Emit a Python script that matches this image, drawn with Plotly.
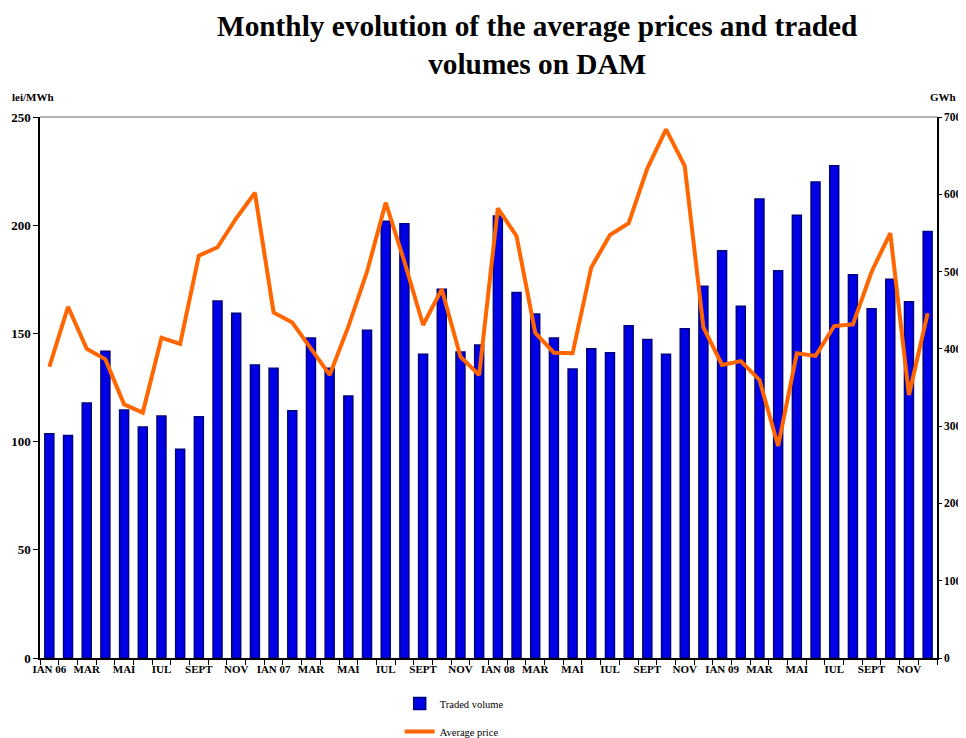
import plotly.graph_objects as go

months = [
    "IAN 06", "FEB 06", "MAR 06", "APR 06", "MAI 06", "IUN 06", "IUL 06", "AUG 06", "SEPT 06", "OCT 06", "NOV 06", "DEC 06",
    "IAN 07", "FEB 07", "MAR 07", "APR 07", "MAI 07", "IUN 07", "IUL 07", "AUG 07", "SEPT 07", "OCT 07", "NOV 07", "DEC 07",
    "IAN 08", "FEB 08", "MAR 08", "APR 08", "MAI 08", "IUN 08", "IUL 08", "AUG 08", "SEPT 08", "OCT 08", "NOV 08", "DEC 08",
    "IAN 09", "FEB 09", "MAR 09", "APR 09", "MAI 09", "IUN 09", "IUL 09", "AUG 09", "SEPT 09", "OCT 09", "NOV 09", "DEC 09",
]

# Traded volume (GWh, right axis)
traded_volume = [
    290, 288, 330, 397, 321, 299, 313, 270, 312, 462, 446, 379,
    375, 320, 414, 375, 339, 424, 565, 562, 393, 477, 396, 405,
    572, 473, 445, 414, 374, 400, 395, 430, 412, 393, 426, 481,
    527, 455, 594, 501, 573, 616, 637, 496, 452, 490, 461, 552,
]

# Average price (lei/MWh, left axis)
average_price = [
    134.6, 162.3, 142.9, 138.0, 117.2, 113.4, 148.0, 145.1, 185.9, 189.8, 203.2, 215.0,
    159.7, 155.0, 143.0, 130.8, 153.1, 178.5, 210.4, 183.1, 153.9, 170.4, 139.2, 130.8,
    207.8, 195.0, 150.3, 141.1, 140.8, 180.5, 195.5, 200.9, 226.3, 244.3, 227.4, 152.8,
    135.4, 137.2, 128.5, 98.0, 140.8, 139.6, 153.4, 154.2, 178.5, 196.3, 121.5, 159.3,
]

tick_labels = ["IAN 06", "MAR", "MAI", "IUL", "SEPT", "NOV",
               "IAN 07", "MAR", "MAI", "IUL", "SEPT", "NOV",
               "IAN 08", "MAR", "MAI", "IUL", "SEPT", "NOV",
               "IAN 09", "MAR", "MAI", "IUL", "SEPT", "NOV"]

x_idx = list(range(len(months)))
tick_positions = x_idx[::2]

FONT = "Liberation Serif, Times New Roman, serif"

fig = go.Figure()
fig.add_trace(go.Bar(
    x=x_idx, y=traded_volume, name="Traded volume",
    marker=dict(color="#0000E6", line=dict(color="#000080", width=1.5)),
    width=0.48, yaxis="y", legendgroup="a",
    customdata=months, hovertemplate="%{customdata}: %{y} GWh<extra></extra>",
))
fig.add_trace(go.Scatter(
    x=x_idx, y=average_price, name="Average price", mode="lines",
    line=dict(color="#FF6600", width=4), yaxis="y2", legendgroup="b",
    customdata=months, hovertemplate="%{customdata}: %{y} lei/MWh<extra></extra>",
))

fig.update_layout(
    width=958, height=730,
    margin=dict(l=32, r=29, t=109, b=80, autoexpand=False),
    paper_bgcolor="white", plot_bgcolor="white",
    font=dict(family=FONT, color="black"),
    showlegend=True,
    legend=dict(
        x=0.401, xanchor="left", y=-0.0573, yanchor="top",
        font=dict(size=10.5, family=FONT), tracegroupgap=9,
        bgcolor="rgba(0,0,0,0)",
    ),
    xaxis=dict(
        range=[-0.5, len(months) - 0.5],
        tickmode="array", tickvals=tick_positions, ticktext=tick_labels,
        ticks="", showgrid=False, zeroline=False,
        showline=True, linecolor="black", linewidth=1.5,
        tickfont=dict(size=11, family=FONT, color="black", weight="bold"),
        minor=dict(ticks="outside", tick0=-0.5, dtick=1, ticklen=5, tickcolor="black", showgrid=False),
    ),
    yaxis=dict(
        side="right", range=[0, 700], dtick=100,
        ticks="outside", ticklen=3, tickcolor="black",
        showgrid=False, zeroline=False,
        showline=True, linecolor="black", linewidth=1.5,
        tickfont=dict(size=11.5, family=FONT, color="black", weight="bold"),
    ),
    yaxis2=dict(
        side="left", overlaying="y", range=[0, 250], dtick=50,
        ticks="outside", ticklen=5, tickcolor="black",
        showgrid=False, zeroline=False,
        showline=True, linecolor="black", linewidth=1.5,
        tickfont=dict(size=13, family=FONT, color="black", weight="bold"),
    ),
    shapes=[dict(type="line", xref="paper", yref="paper", x0=0, x1=1, y0=1, y1=1,
                 line=dict(color="#999999", width=1.5))],
    annotations=[
        dict(text="<b>Monthly evolution of the average prices and traded<br>volumes on DAM</b>",
             xref="paper", yref="paper", x=0.554, y=1.133,
             xanchor="center", yanchor="middle", showarrow=False,
             font=dict(size=29.3, family=FONT, color="black")),
        dict(text="<b>lei/MWh</b>", xref="paper", yref="paper", x=-0.034, y=1.022,
             xanchor="left", yanchor="bottom", showarrow=False,
             font=dict(size=11, family=FONT, color="black")),
        dict(text="<b>GWh</b>", xref="paper", yref="paper", x=1.0067, y=1.022,
             xanchor="center", yanchor="bottom", showarrow=False,
             font=dict(size=11, family=FONT, color="black")),
    ],
    bargap=0.5,
)

fig.write_html("out.html")
